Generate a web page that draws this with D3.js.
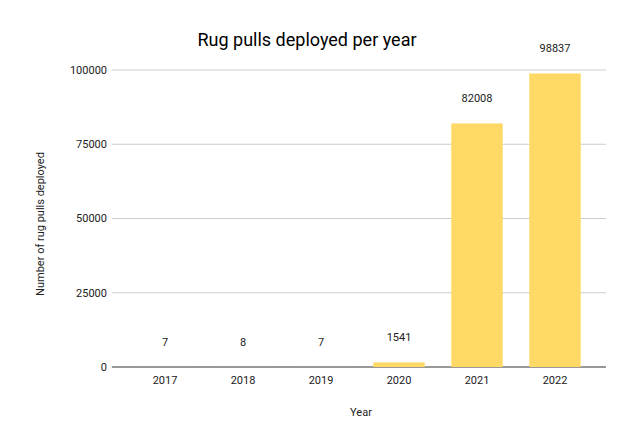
<!DOCTYPE html>
<html><head><meta charset="utf-8">
<script src="https://cdn.jsdelivr.net/npm/d3@7"></script>
<style>body{margin:0;background:#fff}text{font-family:Roboto,Arial,sans-serif}</style>
</head><body><svg id="chart" width="617" height="426"></svg>
<script>
const years = ['2017', '2018', '2019', '2020', '2021', '2022']
const rugPulls = [7, 8, 7, 1541, 82008, 98837]
const yTicks = [0, 25000, 50000, 75000, 100000]

const margin = { top: 70, right: 11, bottom: 59, left: 112 }
const width = 617 - margin.left - margin.right
const height = 426 - margin.top - margin.bottom

const svg = d3.select('#chart')
const g = svg.append('g').attr('transform', `translate(${margin.left},${margin.top})`)

const x = d3.scaleBand().domain(years).range([14, width - 12]).paddingInner(0.34).paddingOuter(0.17)
const y = d3.scaleLinear().domain([0, 100000]).range([height, 0])

// gridlines
g.selectAll('.grid').data(yTicks).enter().append('line')
  .attr('x1', 0).attr('x2', width)
  .attr('y1', d => y(d)).attr('y2', d => y(d))
  .attr('stroke', d => d === 0 ? '#333' : '#ccc').attr('stroke-width', 1)

g.selectAll('.ylab').data(yTicks).enter().append('text')
  .attr('x', -5).attr('y', d => y(d)).attr('dy', '0.35em')
  .attr('text-anchor', 'end').attr('font-size', 11).attr('fill', '#222')
  .text(d => d)

const data = years.map((yr, i) => ({ yr, v: rugPulls[i] }))
g.selectAll('.bar').data(data).enter().append('rect')
  .attr('x', d => x(d.yr)).attr('width', x.bandwidth())
  .attr('y', d => y(d.v)).attr('height', d => height - y(d.v))
  .attr('fill', '#ffd966')

g.selectAll('.val').data(data).enter().append('text')
  .attr('x', d => x(d.yr) + x.bandwidth() / 2).attr('y', d => y(d.v) - 21)
  .attr('text-anchor', 'middle').attr('font-size', 11).attr('fill', '#222')
  .text(d => d.v)

g.selectAll('.xlab').data(years).enter().append('text')
  .attr('x', d => x(d) + x.bandwidth() / 2).attr('y', height + 17)
  .attr('text-anchor', 'middle').attr('font-size', 11).attr('fill', '#222')
  .text(d => d)

svg.append('text').attr('x', 307).attr('y', 46).attr('text-anchor', 'middle')
  .attr('font-size', 18).attr('fill', '#000').text('Rug pulls deployed per year')
svg.append('text').attr('x', 361).attr('y', 416).attr('text-anchor', 'middle')
  .attr('font-size', 11).attr('fill', '#222').text('Year')
svg.append('text').attr('transform', 'translate(44,224) rotate(-90)').attr('text-anchor', 'middle')
  .attr('font-size', 11).attr('fill', '#222').text('Number of rug pulls deployed')
</script></body></html>
